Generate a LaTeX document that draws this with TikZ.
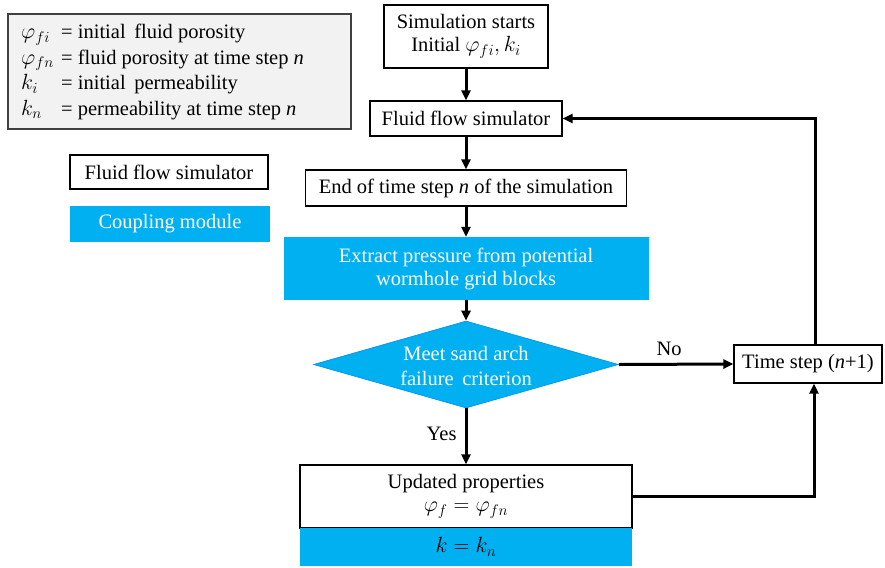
\documentclass[tikz,border=0pt]{standalone}
\usepackage{fix-cm}
\usepackage{fontspec}
\setmainfont{Liberation Serif}
\usetikzlibrary{arrows.meta,shapes.geometric}
\definecolor{cyanbox}{HTML}{00B0F0}
\definecolor{legendgray}{HTML}{F2F2F2}
\definecolor{legendedge}{HTML}{404040}
\newcommand\mth[1]{{\fontsize{22}{24}\selectfont$#1$}}
\begin{document}
\begin{tikzpicture}[x=1pt,y=-1pt,
  every node/.style={font=\fontsize{20.5}{25}\selectfont},
  wbox/.style={draw=black,line width=1.3pt,fill=white,inner sep=0pt,align=center},
  cbox/.style={fill=cyanbox,text=white,inner sep=0pt,align=center},
  flow/.style={line width=3pt,-{Triangle[length=10pt,width=9pt]}},
  plain/.style={inner sep=0pt}]
\useasboundingbox (0,0) rectangle (885,567);
% legend
\node[draw=legendedge,line width=1.5pt,fill=legendgray,minimum width=343,minimum height=115,inner sep=0pt] (legend) at (179.5,71.5) {};
\node[plain,anchor=west,align=left] (legtext) at (21,72) {%
\makebox[40pt][l]{\mth{\varphi_{fi}}}= initial\, fluid porosity\\[0.5pt]
\makebox[40pt][l]{\mth{\varphi_{fn}}}= fluid porosity at time step \textit{n}\\[0.5pt]
\makebox[40pt][l]{\mth{k_{i}}}= initial\, permeability\\[0.5pt]
\makebox[40pt][l]{\mth{k_{n}}}= permeability at time step \textit{n}};
\node[wbox,minimum width=198,minimum height=34] (legffs) at (169,172) {Fluid flow simulator};
\node[cbox,minimum width=200,minimum height=36] (legcpl) at (170,224) {Coupling module};
% main flow
\node[wbox,minimum width=164,minimum height=63] (start) at (466,36.5) {\raisebox{-2pt}{Simulation starts}\\Initial \mth{\varphi_{fi}, k_{i}}};
\node[wbox,minimum width=192,minimum height=35] (ffs) at (466,118.5) {Fluid flow simulator};
\node[wbox,minimum width=321,minimum height=36] (endstep) at (466,188) {End of time step \textit{n} of the simulation};
\node[cbox,minimum width=365,minimum height=63] (extract) at (466,268.5) {\raisebox{-2pt}{Extract pressure from potential}\\wormhole grid blocks};
\node[diamond,aspect=3.5,fill=cyanbox,draw=cyanbox!80!blue,line width=0.6pt,minimum width=305,minimum height=87,inner sep=0pt] (dia) at (466,364.5) {};
\node[plain,text=white,align=center] (diatext) at (466,365.5) {Meet sand arch\\failure\, criterion};
\node[wbox,minimum width=332,minimum height=63] (upd) at (466,496.5) {\raisebox{-2pt}{Updated properties}\\\mth{\varphi_{f}=\varphi_{fn}}};
\node[cbox,text=black,minimum width=332,minimum height=38] (updk) at (466,547) {\mth{k=k_{n}}};
\node[wbox,minimum width=148,minimum height=38] (tstep) at (808,364) {Time step (\textit{n}+1)};
% connectors
\draw[flow] (start.south) -- (ffs.north);
\draw[flow] (ffs.south) -- (endstep.north);
\draw[flow] (endstep.south) -- (extract.north);
\draw[flow] (extract.south) -- (dia.north);
\draw[flow] (dia.south) -- node[plain,left=8pt,pos=0.45] (yes) {Yes} (upd.north);
\draw[flow] (dia.east) -- node[plain,above=7pt,pos=0.44] (no) {No} (tstep.west);
\draw[flow] ([xshift=7pt]tstep.north) |- (ffs.east);
\draw[flow] (upd.east) -| ([xshift=6pt]tstep.south);
\end{tikzpicture}
\end{document}
